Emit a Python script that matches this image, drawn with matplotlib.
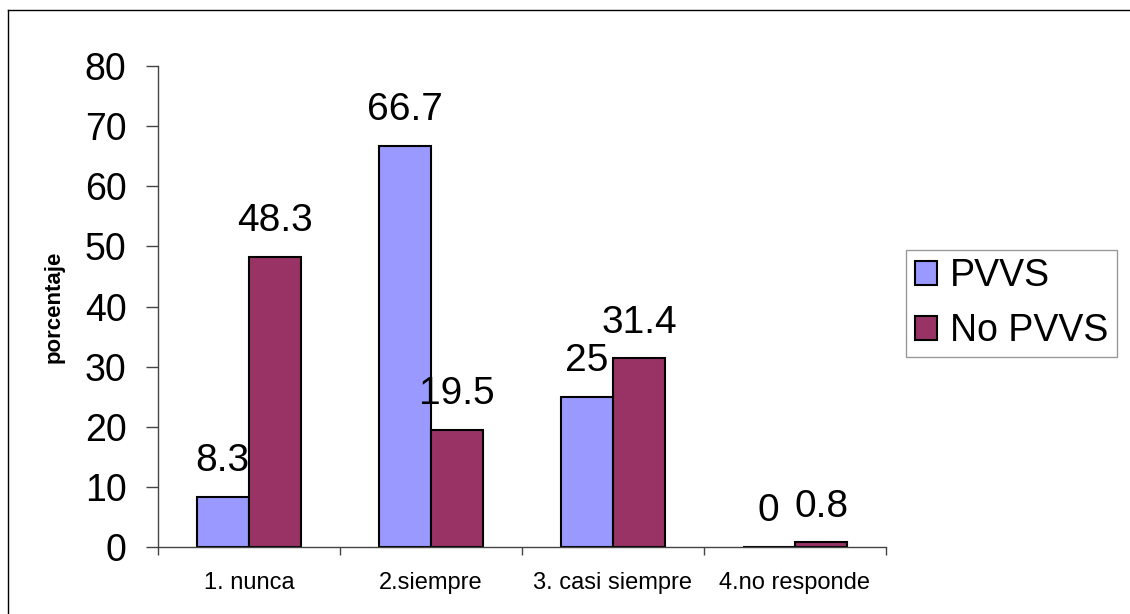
import numpy as np
import matplotlib
matplotlib.use("Agg")
import matplotlib.pyplot as plt
from matplotlib.lines import Line2D

plt.rcParams["font.family"] = ["Liberation Sans", "DejaVu Sans"]

categories = ["1. nunca", "2.siempre", "3. casi siempre", "4.no responde"]
series_names = ["PVVS", "No PVVS"]
pvvs = [8.3, 66.7, 25, 0]
no_pvvs = [48.3, 19.5, 31.4, 0.8]
value_labels_pvvs = ["8.3", "66.7", "25", "0"]
value_labels_no = ["48.3", "19.5", "31.4", "0.8"]
y_ticks = [0, 10, 20, 30, 40, 50, 60, 70, 80]

colors = ["#9999FF", "#993366"]

fig = plt.figure(figsize=(11.3, 6.14), dpi=100)
ax = fig.add_axes([0.1398, 0.1091, 0.6442, 0.7834])

x = np.arange(len(categories))
w = 0.288
bars1 = ax.bar(x - w / 2, pvvs, w, color=colors[0], edgecolor="black",
               linewidth=1.5, label=series_names[0])
bars2 = ax.bar(x + w / 2, no_pvvs, w, color=colors[1], edgecolor="black",
               linewidth=1.5, label=series_names[1])

for bars, labels in ((bars1, value_labels_pvvs), (bars2, value_labels_no)):
    for b, t in zip(bars, labels):
        ax.annotate(t, (b.get_x() + b.get_width() / 2, b.get_height()),
                    xytext=(0, 18.5), textcoords="offset points",
                    ha="center", va="baseline", fontsize=28)

ax.set_xlim(-0.5, len(categories) - 0.5)
ax.set_ylim(0, 80)
ax.set_yticks(y_ticks)
ax.tick_params(axis="y", labelsize=27, length=8.6, width=1, pad=14,
               color="#444444")
ax.set_xticks(x)
ax.set_xticklabels(categories)
ax.tick_params(axis="x", which="major", length=0, labelsize=17, pad=18)
ax.set_xticks(np.arange(len(categories) + 1) - 0.5, minor=True)
ax.tick_params(axis="x", which="minor", length=6, width=1, color="#444444")

for side in ("top", "right"):
    ax.spines[side].set_visible(False)
for side in ("left", "bottom"):
    ax.spines[side].set_color("#444444")
    ax.spines[side].set_linewidth(1)

ax.set_ylabel("porcentaje", fontsize=16, fontweight="bold")
ax.yaxis.set_label_coords(-0.128, 0.5)

leg = ax.legend(loc="upper left", bbox_to_anchor=(0.802, 0.593),
                bbox_transform=fig.transFigure, borderaxespad=0,
                fontsize=27, frameon=True, fancybox=False,
                handlelength=0.6, handleheight=0.6, handletextpad=0.35,
                labelspacing=0.5, borderpad=0.22)
leg.get_frame().set_edgecolor("#808080")
leg.get_frame().set_linewidth(1)
for h in leg.legend_handles:
    h.set_linewidth(1.5)

# outer frame (top and left edges)
fig.add_artist(Line2D([0.0071, 0.0071], [0.0, 0.9837], color="black",
                      lw=1, transform=fig.transFigure))
fig.add_artist(Line2D([0.0071, 1.0], [0.9837, 0.9837], color="black",
                      lw=1, transform=fig.transFigure))

fig.savefig("out.png", dpi=100)
